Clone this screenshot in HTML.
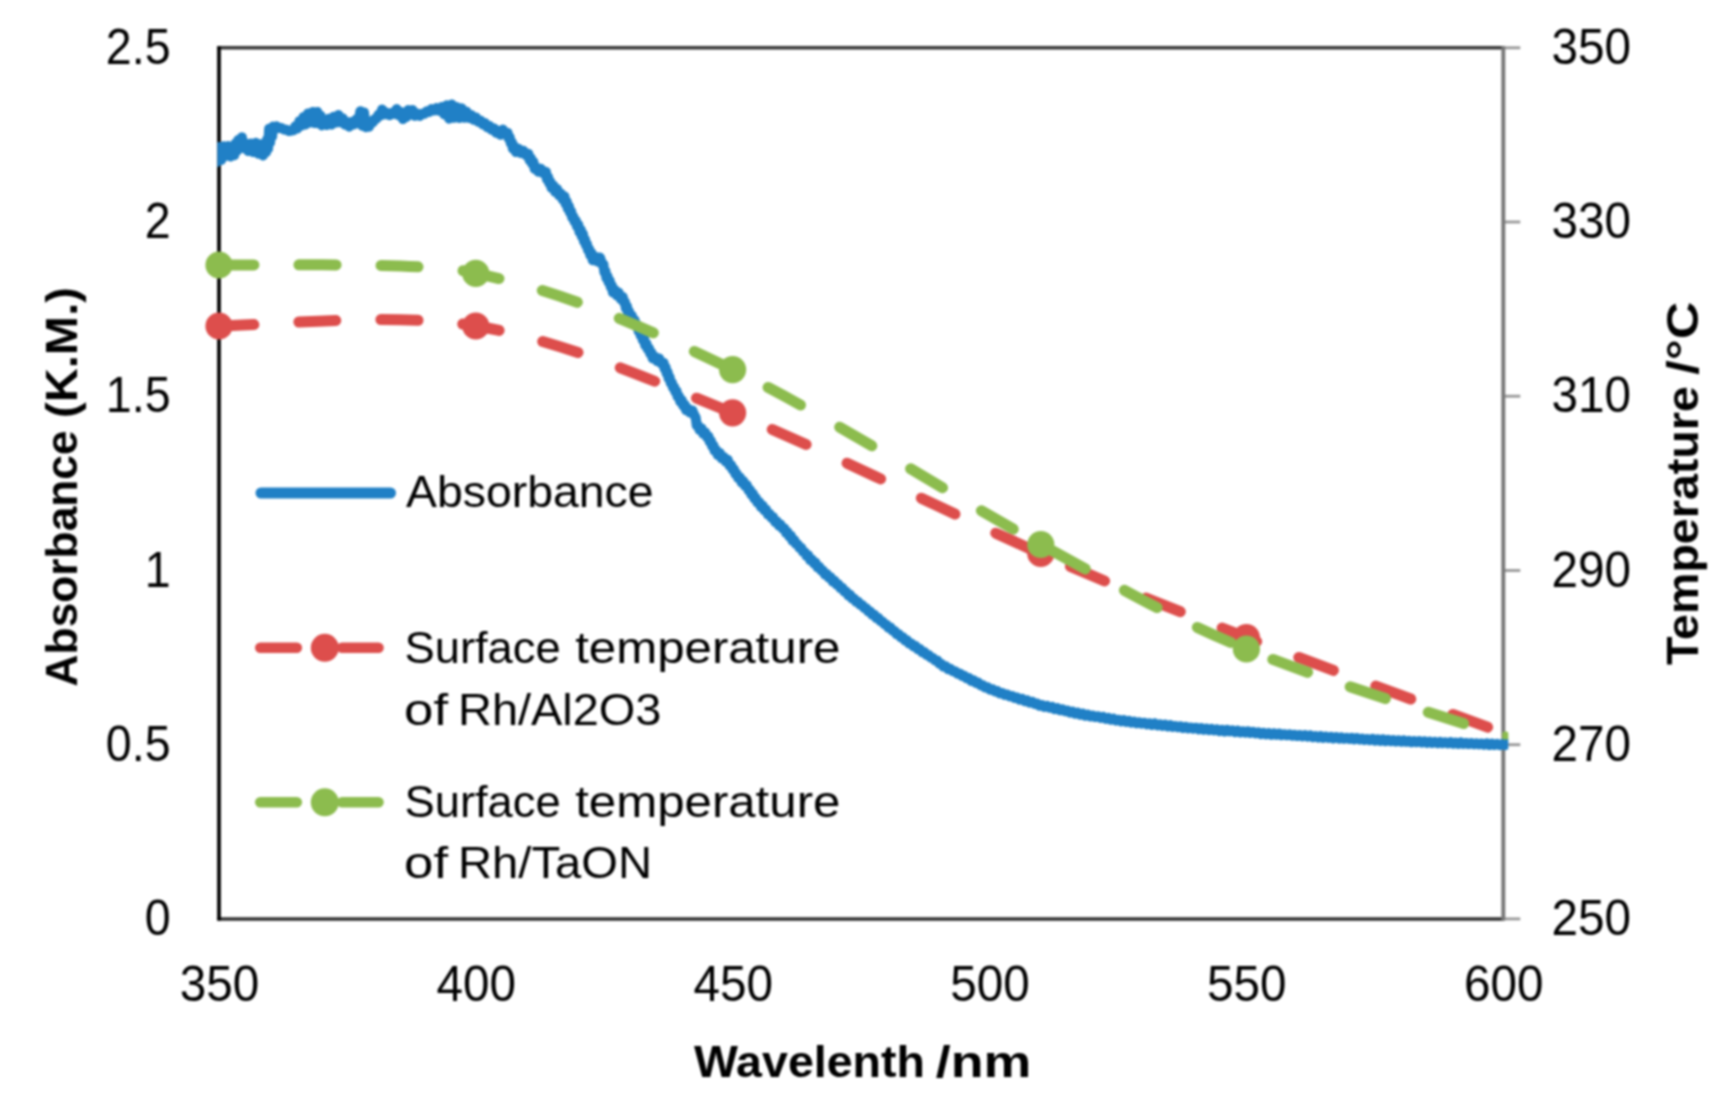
<!DOCTYPE html>
<html lang="en"><head><meta charset="utf-8"><title>Absorbance and surface temperature vs wavelength</title>
<style>html,body{margin:0;padding:0;background:#fff}body{width:1735px;height:1118px;overflow:hidden}</style>
</head><body>
<svg width="1735" height="1118" viewBox="0 0 1735 1118" style="display:block;filter:blur(0.8px)">
<rect width="1735" height="1118" fill="#fff"/>
<g fill="none">
<line x1="217.3" y1="47.8" x2="1504.3" y2="47.8" stroke="#383838" stroke-width="3.5"/>
<line x1="217.3" y1="918.9" x2="1504.3" y2="918.9" stroke="#303030" stroke-width="3.5"/>
<line x1="1503.3" y1="918.9" x2="1520.3" y2="918.9" stroke="#979797" stroke-width="2.8"/>
<line x1="1503.3" y1="744.7" x2="1520.3" y2="744.7" stroke="#979797" stroke-width="2.8"/>
<line x1="1503.3" y1="570.5" x2="1520.3" y2="570.5" stroke="#979797" stroke-width="2.8"/>
<line x1="1503.3" y1="396.2" x2="1520.3" y2="396.2" stroke="#979797" stroke-width="2.8"/>
<line x1="1503.3" y1="222.0" x2="1520.3" y2="222.0" stroke="#979797" stroke-width="2.8"/>
<line x1="1503.3" y1="47.8" x2="1520.3" y2="47.8" stroke="#979797" stroke-width="2.8"/>
<line x1="1503.3" y1="46.3" x2="1503.3" y2="920.4" stroke="#777" stroke-width="3.9"/>
<line x1="219.0" y1="46.3" x2="219.0" y2="920.4" stroke="#000" stroke-width="3.7"/>
</g>
<rect x="1502.3" y="731.5" width="6" height="10" rx="2" fill="#8cbc4e"/>
<clipPath id="cb"><rect x="217.3" y="0" width="1291" height="1118"/></clipPath>
<path clip-path="url(#cb)" d="M216.4 162.2 L218.8 147.0 L221.2 160.0 L223.5 146.3 L225.9 155.8 L228.3 146.0 L230.6 156.5 L232.9 147.7 L234.2 155.2 L235.5 143.5 L236.8 150.8 L238.1 140.1 L239.4 147.5 L241.9 137.3 L243.9 148.2 L245.8 143.6 L248.3 151.1 L250.8 143.5 L253.3 152.1 L255.9 142.8 L258.4 153.7 L260.9 144.2 L263.0 155.5 L265.1 146.0 L266.1 152.0 L267.1 139.4 L268.1 148.6 L269.1 128.7 L270.1 142.5 L271.1 128.0 L272.1 136.5 L273.1 126.6 L274.1 128.3 L276.5 126.3 L279.0 128.1 L281.5 128.1 L284.0 129.5 L286.4 129.8 L288.9 131.0 L291.4 130.5 L293.4 130.3 L295.4 126.2 L297.4 128.5 L299.4 121.2 L301.4 125.7 L303.5 117.0 L305.6 124.4 L308.0 113.4 L310.4 122.4 L312.7 112.0 L314.9 123.1 L317.3 111.9 L318.9 123.4 L320.5 115.7 L322.0 125.4 L324.0 120.3 L326.5 125.0 L329.0 118.7 L331.5 124.6 L333.8 116.7 L336.1 122.5 L338.5 115.0 L340.6 122.3 L342.7 118.2 L344.8 124.4 L347.0 122.0 L349.1 126.7 L351.5 122.0 L353.9 124.5 L356.4 119.2 L358.4 123.2 L360.3 111.3 L362.3 125.7 L364.0 112.4 L365.7 127.2 L367.3 121.2 L369.0 126.8 L370.9 121.7 L372.8 122.2 L374.7 119.2 L376.6 118.7 L378.4 114.9 L380.2 115.6 L382.1 109.5 L384.7 114.3 L387.1 112.8 L389.5 115.2 L392.1 112.9 L394.4 113.9 L396.6 109.1 L399.2 115.5 L401.1 112.1 L403.0 119.1 L404.9 114.0 L406.6 116.9 L408.3 110.0 L410.0 114.5 L412.4 110.0 L414.8 115.8 L417.3 113.7 L419.7 115.8 L422.1 113.8 L424.4 113.8 L426.8 111.3 L429.2 112.0 L431.5 109.1 L434.1 110.5 L436.7 108.0 L439.3 110.8 L441.9 106.9 L444.3 114.4 L446.7 105.3 L449.1 118.7 L451.6 104.5 L454.2 117.8 L456.8 107.1 L459.2 118.1 L461.7 108.3 L464.1 117.8 L466.6 111.7 L468.9 118.1 L471.2 115.0 L473.6 119.8 L475.9 117.4 L478.2 121.8 L480.5 120.6 L482.8 124.4 L485.0 123.1 L487.2 127.3 L489.4 125.9 L491.6 129.8 L493.9 128.4 L496.1 132.7 L498.3 130.7 L500.5 134.8 L502.8 129.6 L505.1 133.1 L507.6 132.9 L508.7 138.6 L509.7 137.3 L510.8 143.5 L511.9 142.4 L512.9 148.8 L514.0 146.0 L515.9 152.0 L518.4 148.7 L520.9 153.1 L523.3 150.7 L525.8 155.1 L528.3 153.7 L529.6 160.3 L530.9 158.3 L532.1 163.8 L533.4 161.8 L534.7 169.0 L536.0 167.1 L538.5 171.8 L540.9 168.8 L543.4 173.4 L545.9 171.8 L547.0 179.5 L548.1 176.8 L549.3 183.4 L550.4 181.9 L551.5 187.9 L553.4 185.4 L555.2 192.0 L557.1 189.0 L559.0 195.4 L560.8 193.4 L562.7 199.6 L564.5 196.3 L565.6 204.1 L566.7 201.3 L567.8 208.8 L568.9 206.1 L570.0 212.7 L571.1 211.1 L572.2 217.6 L573.3 216.4 L574.6 221.8 L575.8 220.6 L577.0 226.6 L578.3 224.7 L579.5 232.1 L580.8 229.6 L581.9 236.7 L582.9 233.7 L584.0 241.5 L585.0 239.3 L586.0 245.4 L587.0 244.2 L588.0 250.2 L589.1 249.0 L590.3 255.3 L591.5 252.8 L592.7 260.2 L594.8 256.6 L597.4 261.5 L599.9 257.4 L602.4 264.8 L603.4 264.3 L604.4 272.5 L605.4 270.8 L606.4 278.2 L607.5 276.2 L608.6 282.3 L609.7 280.5 L610.8 287.2 L611.8 285.3 L612.9 292.6 L614.8 289.8 L616.8 295.4 L618.7 292.6 L620.7 299.1 L622.7 296.9 L623.9 302.5 L624.9 301.9 L625.9 308.4 L626.9 306.1 L627.9 312.6 L628.9 311.0 L630.3 318.1 L631.8 315.5 L633.2 321.6 L634.6 320.0 L636.1 325.7 L637.5 325.1 L638.6 331.4 L639.6 329.1 L640.7 335.6 L641.7 333.6 L642.8 340.2 L644.0 338.3 L645.2 345.3 L646.5 343.7 L647.7 349.2 L648.9 348.2 L650.2 353.7 L651.4 352.4 L652.6 358.3 L654.6 356.4 L656.8 360.9 L659.1 358.4 L661.3 363.7 L663.6 362.8 L664.6 368.9 L665.6 367.1 L666.6 373.5 L667.6 371.9 L668.6 378.4 L669.6 377.2 L670.7 383.2 L671.8 382.4 L673.0 387.7 L674.1 386.9 L675.3 391.9 L676.5 390.9 L677.6 396.7 L678.8 395.9 L680.2 401.7 L681.7 400.1 L683.1 405.6 L684.6 404.5 L686.0 410.1 L687.5 408.2 L689.9 412.5 L692.3 410.4 L694.7 415.9 L695.7 417.6 L696.7 425.6 L697.7 424.8 L699.6 429.9 L701.4 428.2 L703.3 433.9 L705.1 432.2 L707.0 437.3 L708.4 436.3 L709.6 441.7 L710.9 440.7 L712.1 446.2 L713.4 445.4 L714.6 450.8 L715.9 449.6 L717.8 455.0 L719.8 453.0 L721.8 458.5 L723.8 457.0 L725.7 461.5 L727.7 459.8 L729.7 465.8 L731.1 465.1 L732.5 469.6 L733.9 469.2 L735.3 473.9 L736.7 473.8 L738.2 478.1 L739.9 477.4 L741.6 482.5 L743.3 481.1 L745.1 485.9 L746.8 485.2 L748.5 490.2 L750.0 489.8 L751.4 494.7 L752.8 493.5 L754.3 498.5 L755.7 497.7 L757.4 502.6 L759.2 502.0 L760.9 506.9 L762.6 505.6 L764.4 510.1 L766.1 509.8 L767.8 514.3 L769.6 513.8 L771.4 517.8 L773.2 517.4 L775.1 521.8 L776.9 521.3 L778.8 525.3 L780.6 524.7 L782.5 528.5 L784.3 528.4 L786.0 532.8 L787.6 532.3 L789.3 536.4 L791.0 536.0 L792.6 540.8 L794.3 540.1 L796.1 544.3 L797.8 544.4 L799.6 548.1 L801.3 547.9 L803.1 552.1 L804.8 552.2 L806.6 556.0 L808.3 555.5 L810.1 560.0 L812.0 559.6 L813.8 563.2 L815.6 562.9 L817.5 567.2 L819.3 566.8 L821.2 570.5 L823.0 570.8 L824.9 574.5 L826.9 574.1 L828.8 577.6 L830.7 577.3 L832.6 581.4 L834.6 580.9 L836.5 584.5 L838.4 584.3 L840.4 588.0 L842.3 587.8 L844.2 591.6 L846.2 591.6 L848.1 595.2 L850.1 594.7 L852.0 598.4 L854.0 598.5 L856.1 601.8 L858.1 601.7 L860.1 604.8 L862.2 605.0 L864.2 608.0 L866.2 608.2 L868.2 611.4 L870.3 611.5 L872.3 614.8 L874.3 614.7 L876.4 618.0 L878.4 618.1 L880.4 621.1 L882.4 621.4 L884.5 624.3 L886.5 624.6 L888.5 627.8 L890.6 627.6 L892.6 630.7 L894.6 630.9 L896.7 634.3 L898.8 634.3 L900.8 637.4 L902.9 637.3 L905.0 640.4 L907.0 640.2 L909.1 643.4 L911.3 643.4 L913.4 646.4 L915.6 646.0 L917.8 649.2 L919.9 649.0 L922.1 652.2 L924.3 652.0 L926.4 654.9 L928.6 655.0 L930.8 657.7 L932.9 657.9 L935.1 660.5 L937.3 660.5 L939.3 663.7 L941.4 664.0 L943.4 666.6 L945.8 666.3 L948.1 669.3 L950.4 668.7 L952.7 671.3 L955.1 671.2 L957.4 673.7 L959.7 673.4 L962.0 675.9 L964.4 675.8 L966.7 678.3 L969.0 677.9 L971.3 681.0 L973.7 680.4 L976.0 683.0 L978.3 682.6 L980.6 685.4 L982.9 685.2 L985.3 687.6 L987.6 687.3 L990.0 689.7 L992.5 689.2 L994.9 691.5 L997.3 691.1 L999.7 693.4 L1002.2 693.0 L1004.7 694.9 L1007.1 694.4 L1009.6 696.4 L1012.1 696.1 L1014.6 698.0 L1017.1 697.5 L1019.6 699.6 L1022.1 698.8 L1024.6 701.2 L1027.1 700.3 L1029.6 702.7 L1032.1 701.7 L1034.5 704.0 L1037.0 703.4 L1039.5 705.8 L1042.0 705.0 L1044.5 707.0 L1047.1 705.9 L1049.6 707.8 L1052.1 706.9 L1054.7 709.2 L1057.2 708.1 L1059.8 710.3 L1062.3 709.2 L1064.8 711.2 L1067.3 710.5 L1069.9 712.6 L1072.4 711.6 L1075.0 713.8 L1077.5 712.6 L1080.1 714.8 L1082.6 713.6 L1085.1 715.8 L1087.7 714.6 L1090.3 716.4 L1092.8 715.6 L1095.4 717.1 L1098.0 716.2 L1100.6 717.9 L1103.1 716.8 L1105.7 718.9 L1108.3 717.8 L1110.8 719.8 L1113.4 718.6 L1116.0 720.6 L1118.5 719.7 L1121.1 721.4 L1123.7 720.0 L1126.3 721.9 L1128.9 720.8 L1131.4 722.6 L1134.0 721.6 L1136.6 723.3 L1139.2 722.2 L1141.7 723.7 L1144.3 722.7 L1146.9 724.4 L1149.5 723.3 L1152.1 725.0 L1154.7 723.4 L1157.3 725.4 L1159.9 724.2 L1162.4 725.9 L1165.0 724.6 L1167.6 726.5 L1170.2 725.1 L1172.8 726.9 L1175.4 725.9 L1178.0 727.2 L1180.6 726.3 L1183.1 728.0 L1185.7 726.8 L1188.3 728.4 L1190.9 727.4 L1193.5 728.7 L1196.1 727.7 L1198.7 729.4 L1201.3 728.0 L1203.9 729.8 L1206.5 728.6 L1209.1 730.1 L1211.6 728.9 L1214.2 730.5 L1216.8 729.4 L1219.4 731.1 L1222.0 729.8 L1224.6 731.5 L1227.2 729.8 L1229.8 731.4 L1232.4 730.4 L1235.0 732.1 L1237.6 730.6 L1240.2 732.4 L1242.8 731.2 L1245.4 732.6 L1247.9 731.3 L1250.5 733.0 L1253.1 731.9 L1255.7 733.4 L1258.3 732.3 L1260.9 734.1 L1263.5 732.8 L1266.1 734.4 L1268.7 733.1 L1271.3 734.8 L1273.9 733.3 L1276.5 734.8 L1279.1 733.5 L1281.7 735.2 L1284.3 734.2 L1286.9 735.3 L1289.5 734.3 L1292.0 735.8 L1294.6 734.7 L1297.2 736.0 L1299.8 735.0 L1302.4 736.4 L1305.0 735.1 L1307.6 736.6 L1310.2 735.4 L1312.8 737.2 L1315.4 736.0 L1318.0 737.6 L1320.6 736.1 L1323.2 737.9 L1325.8 736.5 L1328.4 738.0 L1331.0 736.8 L1333.6 738.5 L1336.2 737.0 L1338.8 738.6 L1341.4 737.4 L1344.0 738.8 L1346.6 737.8 L1349.2 739.0 L1351.7 737.8 L1354.3 739.4 L1356.9 738.0 L1359.5 739.6 L1362.1 738.6 L1364.7 740.0 L1367.3 738.9 L1369.9 740.2 L1372.5 738.8 L1375.1 740.7 L1377.7 739.2 L1380.3 740.9 L1382.9 739.3 L1385.5 741.2 L1388.1 739.7 L1390.7 741.3 L1393.3 740.1 L1395.9 741.5 L1398.5 740.2 L1401.1 741.8 L1403.7 740.3 L1406.3 741.8 L1408.9 740.8 L1411.5 742.3 L1414.1 741.0 L1416.7 742.3 L1419.3 741.1 L1421.9 742.5 L1424.5 741.2 L1427.1 742.9 L1429.7 741.6 L1432.3 743.0 L1434.9 741.8 L1437.5 743.2 L1440.1 741.9 L1442.7 743.2 L1445.3 742.2 L1447.9 743.4 L1450.5 742.1 L1453.1 743.7 L1455.6 742.5 L1458.2 744.0 L1460.8 742.4 L1463.4 744.0 L1466.0 742.9 L1468.6 744.1 L1471.2 743.1 L1473.8 744.3 L1476.4 743.3 L1479.0 744.4 L1481.6 743.4 L1484.2 744.7 L1486.8 743.3 L1489.4 745.0 L1492.0 743.6 L1494.6 745.0 L1497.2 743.8 L1499.8 745.2 L1502.4 744.0 L1505.0 745.2 L1507.6 744.2" fill="none" stroke="#2080c6" stroke-width="10.0" stroke-linejoin="round" stroke-linecap="round"/>
<path d="M219.0 326.0 C261.8 326.0 390.2 311.5 475.8 326.0 C561.4 340.5 638.4 374.9 732.6 412.8 C826.8 450.7 955.2 516.0 1040.8 553.5 C1126.4 591.0 1169.3 607.6 1246.4 637.5 C1323.5 667.4 1460.5 717.1 1503.3 733.0" fill="none" stroke="#dd4e4c" stroke-width="11" stroke-dasharray="37 45" stroke-dashoffset="2" stroke-linecap="round"/>
<circle cx="219.0" cy="326.0" r="13.6" fill="#dd4e4c"/><circle cx="475.8" cy="326.0" r="13.6" fill="#dd4e4c"/><circle cx="732.6" cy="412.8" r="13.6" fill="#dd4e4c"/><circle cx="1040.8" cy="553.5" r="13.6" fill="#dd4e4c"/><circle cx="1246.4" cy="637.5" r="13.6" fill="#dd4e4c"/>
<path d="M219.0 265.0 C300.0 265.0 440.0 262.8 475.8 273.4 C561.4 290.8 638.4 324.4 732.6 369.6 C826.8 414.8 955.2 497.9 1040.8 544.5 C1126.4 591.1 1169.3 617.0 1246.4 649.0 C1323.5 681.0 1460.5 721.9 1503.3 736.5" fill="none" stroke="#8cbc4e" stroke-width="11" stroke-dasharray="37 45" stroke-dashoffset="2" stroke-linecap="round"/>
<circle cx="219.0" cy="265.0" r="13.6" fill="#8cbc4e"/><circle cx="475.8" cy="273.4" r="13.6" fill="#8cbc4e"/><circle cx="732.6" cy="369.6" r="13.6" fill="#8cbc4e"/><circle cx="1040.8" cy="544.5" r="13.6" fill="#8cbc4e"/><circle cx="1246.4" cy="649.0" r="13.6" fill="#8cbc4e"/>
<line x1="261" y1="493" x2="390.5" y2="493" stroke="#2080c6" stroke-width="11" stroke-linecap="round"/>
<line x1="260.3" y1="647.8" x2="378.5" y2="647.8" stroke="#dd4e4c" stroke-width="10.6" stroke-linecap="round" stroke-dasharray="36.5 45.2"/>
<circle cx="324.8" cy="647.8" r="14" fill="#dd4e4c"/>
<line x1="260.3" y1="802.3" x2="378.5" y2="802.3" stroke="#8cbc4e" stroke-width="10.6" stroke-linecap="round" stroke-dasharray="36.5 45.2"/>
<circle cx="324.8" cy="802.3" r="14" fill="#8cbc4e"/>
<g style="font-family:'Liberation Sans',sans-serif" fill="#000">
<text x="144.7" y="935.1" font-size="49.6" textLength="25.9" lengthAdjust="spacingAndGlyphs">0</text>
<text x="105.8" y="760.9" font-size="49.6" textLength="64.8" lengthAdjust="spacingAndGlyphs">0.5</text>
<text x="144.7" y="586.7" font-size="49.6" textLength="25.9" lengthAdjust="spacingAndGlyphs">1</text>
<text x="105.8" y="412.4" font-size="49.6" textLength="64.8" lengthAdjust="spacingAndGlyphs">1.5</text>
<text x="144.7" y="238.2" font-size="49.6" textLength="25.9" lengthAdjust="spacingAndGlyphs">2</text>
<text x="105.8" y="64.0" font-size="49.6" textLength="64.8" lengthAdjust="spacingAndGlyphs">2.5</text>
<text x="1551.6" y="935.1" font-size="49.6" textLength="79.5" lengthAdjust="spacingAndGlyphs">250</text>
<text x="1551.6" y="760.9" font-size="49.6" textLength="79.5" lengthAdjust="spacingAndGlyphs">270</text>
<text x="1551.6" y="586.7" font-size="49.6" textLength="79.5" lengthAdjust="spacingAndGlyphs">290</text>
<text x="1551.6" y="412.4" font-size="49.6" textLength="79.5" lengthAdjust="spacingAndGlyphs">310</text>
<text x="1551.6" y="238.2" font-size="49.6" textLength="79.5" lengthAdjust="spacingAndGlyphs">330</text>
<text x="1551.6" y="64.0" font-size="49.6" textLength="79.5" lengthAdjust="spacingAndGlyphs">350</text>
<text x="179.7" y="1001.0" font-size="49.6" textLength="79.5" lengthAdjust="spacingAndGlyphs">350</text>
<text x="436.5" y="1001.0" font-size="49.6" textLength="79.5" lengthAdjust="spacingAndGlyphs">400</text>
<text x="693.4" y="1001.0" font-size="49.6" textLength="79.5" lengthAdjust="spacingAndGlyphs">450</text>
<text x="950.3" y="1001.0" font-size="49.6" textLength="79.5" lengthAdjust="spacingAndGlyphs">500</text>
<text x="1207.1" y="1001.0" font-size="49.6" textLength="79.5" lengthAdjust="spacingAndGlyphs">550</text>
<text x="1464.0" y="1001.0" font-size="49.6" textLength="79.5" lengthAdjust="spacingAndGlyphs">600</text>
<text font-size="44.5"><tspan x="406.1" y="507.0" textLength="247.4" lengthAdjust="spacingAndGlyphs">Absorbance</tspan></text>
<text font-size="44.5"><tspan x="404.5" y="663.0" textLength="156.2" lengthAdjust="spacingAndGlyphs">Surface</tspan> <tspan x="575.2" y="663.0" textLength="265.2" lengthAdjust="spacingAndGlyphs">temperature</tspan> <tspan x="404.1" y="724.5" textLength="44.0" lengthAdjust="spacingAndGlyphs">of</tspan> <tspan x="458.0" y="724.5" textLength="203.4" lengthAdjust="spacingAndGlyphs">Rh/Al2O3</tspan></text>
<text font-size="44.5"><tspan x="404.5" y="817.2" textLength="156.2" lengthAdjust="spacingAndGlyphs">Surface</tspan> <tspan x="575.2" y="817.2" textLength="265.2" lengthAdjust="spacingAndGlyphs">temperature</tspan> <tspan x="404.1" y="878.4" textLength="44.0" lengthAdjust="spacingAndGlyphs">of</tspan> <tspan x="458.0" y="878.4" textLength="194.0" lengthAdjust="spacingAndGlyphs">Rh/TaON</tspan></text>
<text font-size="44.5" font-weight="bold"><tspan x="693.9" y="1076.5" textLength="231.1" lengthAdjust="spacingAndGlyphs">Wavelenth</tspan> <tspan x="935.8" y="1076.5" textLength="95.6" lengthAdjust="spacingAndGlyphs">/nm</tspan></text>
<text transform="translate(77.2 686.4) rotate(-90)" font-size="44.5" font-weight="bold"><tspan x="0.0" y="0" textLength="256.0" lengthAdjust="spacingAndGlyphs">Absorbance</tspan> <tspan x="268.4" y="0" textLength="131.0" lengthAdjust="spacingAndGlyphs">(K.M.)</tspan></text>
<text transform="translate(1697.6 664.9) rotate(-90)" font-size="44.5" font-weight="bold"><tspan x="0.0" y="0" textLength="278.7" lengthAdjust="spacingAndGlyphs">Temperature</tspan> <tspan x="290.2" y="0" textLength="73.2" lengthAdjust="spacingAndGlyphs">/°C</tspan></text>
</g>
</svg>
</body></html>
